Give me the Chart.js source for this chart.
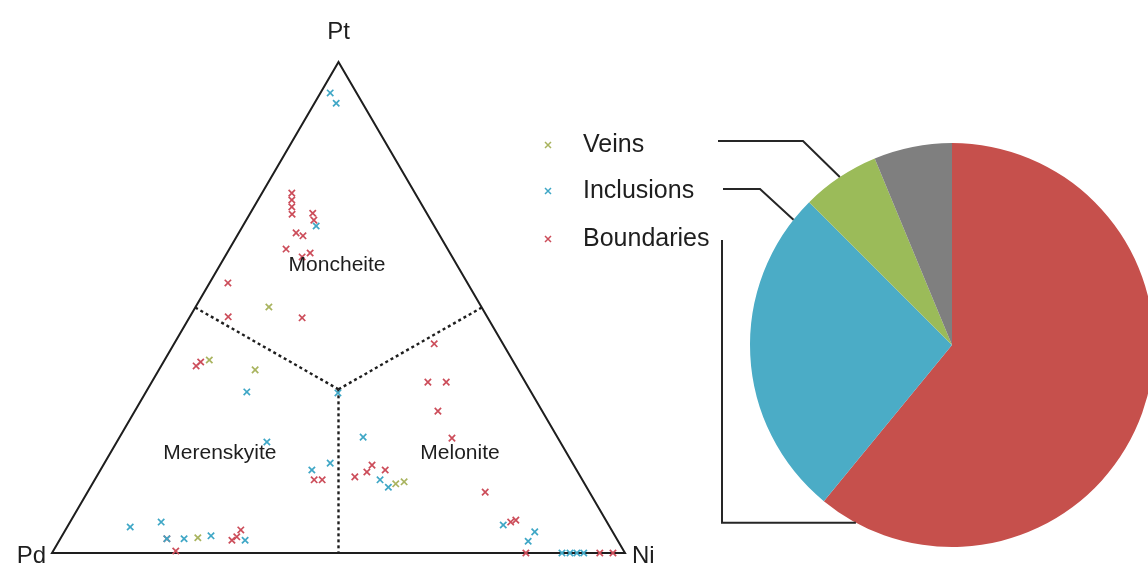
<!DOCTYPE html>
<html>
<head>
<meta charset="utf-8">
<script src="https://cdn.jsdelivr.net/npm/chart.js"></script>
<style>
  html, body { margin: 0; padding: 0; background: #fff; overflow: hidden; width: 1148px; height: 567px; }
  #ternary { position: absolute; left: 0; top: 0; }
  #pie { position: absolute; left: 520px; top: 0; }
</style>
</head>
<body>
<canvas id="ternary" width="700" height="567"></canvas>
<canvas id="pie" width="640" height="567"></canvas>
<script>
// Grain compositions in percent, ordered [Pt, Pd, Ni]
const veins = [
  [50.1, 37.1, 12.8], [39.3, 52.9, 7.8], [37.3, 45.9, 16.8],
  [14.5, 31.3, 54.2], [14.1, 33.0, 53.0], [3.1, 73.0, 23.9]
];
const inclusions = [
  [93.7, 4.6, 1.7], [91.6, 4.6, 3.8], [66.6, 20.6, 12.8], [32.8, 49.6, 17.6],
  [32.6, 33.8, 33.6], [23.6, 33.9, 42.5], [22.6, 51.2, 26.2], [18.3, 42.3, 39.4],
  [16.9, 46.2, 36.9], [14.9, 35.3, 49.8], [13.4, 34.6, 52.0], [5.3, 83.7, 11.0],
  [6.3, 77.8, 15.9], [2.9, 78.5, 18.6], [2.9, 75.5, 21.6], [3.5, 70.5, 26.0],
  [2.6, 65.0, 32.4], [5.7, 18.4, 75.9], [4.3, 13.6, 82.1], [2.4, 15.7, 81.9],
  [0, 11.0, 89.0], [0, 9.6, 90.4], [0, 8.4, 91.6], [0, 7.2, 92.8]
];
const boundaries = [
  [73.3, 21.5, 5.2], [71.9, 22.2, 5.9], [70.5, 22.9, 6.6], [69.0, 23.6, 7.4],
  [69.2, 19.9, 10.9], [67.8, 20.4, 11.8], [65.2, 24.8, 10.0], [64.6, 23.9, 11.5],
  [61.9, 28.2, 9.9], [61.1, 24.4, 14.5], [60.3, 26.2, 13.5], [55.0, 41.8, 3.2],
  [48.1, 45.2, 6.7], [47.9, 32.4, 19.7], [38.1, 55.8, 6.1], [38.9, 54.6, 6.5],
  [42.6, 12.0, 45.4], [34.8, 17.0, 48.2], [34.8, 13.8, 51.4], [28.9, 18.2, 52.9],
  [23.4, 18.5, 58.1], [15.5, 39.4, 45.1], [16.5, 36.8, 46.7], [17.9, 35.2, 46.9],
  [16.9, 33.4, 49.7], [14.9, 46.8, 38.3], [14.9, 45.4, 39.7], [12.4, 18.2, 69.4],
  [6.3, 16.8, 76.9], [6.7, 15.7, 77.6], [0.4, 78.2, 21.4], [2.9, 78.5, 18.6],
  [2.6, 67.3, 30.1], [3.3, 66.1, 30.6], [4.7, 64.7, 30.6],
  [0, 17.3, 82.7], [0, 4.4, 95.6], [0, 2.1, 97.9]
];

// Corners of the diagram and the mineral field boundaries
const componentNames = ['Pt', 'Pd', 'Ni'];
const corners = [[100, 0, 0], [0, 100, 0], [0, 0, 100]];
const fieldCentre = [100 / 3, 100 / 3, 100 / 3];
const edgeMidpoints = [[50, 50, 0], [50, 0, 50], [0, 50, 50]];
const fieldNames = ['Moncheite', 'Merenskyite', 'Melonite'];
const fieldLabelAt = [[58.7, 20.9, 20.4], [20.4, 60.5, 19.1], [20.4, 18.6, 61.0]];

// Occurrence counts by textural setting
const settingNames = ['Veins', 'Inclusions', 'Boundaries'];
const pieLabels = ['Boundaries', 'Inclusions', 'Veins', 'Other'];
const pieCounts = [39, 17, 4, 4];

const FONT = "'Liberation Sans', Arial, Helvetica, sans-serif";
const colours = { Veins: '#a9b45f', Inclusions: '#3fa7c6', Boundaries: '#cc4d5a' };
const sliceColours = ['#c6504c', '#4bacc6', '#9bbb59', '#7f7f7f'];

// Ternary composition -> cartesian position in a unit triangle
function toXY(c) {
  const s = c[0] + c[1] + c[2];
  const pt = c[0] / s, ni = c[2] / s;
  return { x: ni + pt / 2, y: pt };
}

const [ptCorner, pdCorner, niCorner] = corners;

const lineDataset = (points, dashed) => ({
  type: 'scatter',
  data: points.map(toXY),
  showLine: true,
  pointRadius: 0,
  borderColor: '#1e1e1e',
  borderWidth: dashed ? 2.4 : 2,
  borderDash: dashed ? [3, 3] : [],
  borderJoinStyle: 'miter',
  fill: false,
  clip: false
});

const markerDataset = (name, rows) => ({
  label: name,
  data: rows.map(toXY),
  pointStyle: 'crossRot',
  pointRadius: 4.5,
  borderWidth: 1.7,
  borderColor: colours[name],
  backgroundColor: colours[name],
  showLine: false,
  clip: false
});

const ternaryLabels = {
  id: 'ternaryLabels',
  afterDatasetsDraw(chart) {
    const { ctx, scales: { x, y } } = chart;
    const px = c => { const p = toXY(c); return [x.getPixelForValue(p.x), y.getPixelForValue(p.y)]; };
    ctx.save();
    ctx.fillStyle = '#1e1e1e';
    ctx.font = '24px ' + FONT;
    ctx.textBaseline = 'middle';
    let [ax, ay] = px(ptCorner);
    ctx.textAlign = 'center';
    ctx.fillText(componentNames[0], ax, ay - 30);
    [ax, ay] = px(pdCorner);
    ctx.textAlign = 'right';
    ctx.fillText(componentNames[1], ax - 6, ay + 3);
    [ax, ay] = px(niCorner);
    ctx.textAlign = 'left';
    ctx.fillText(componentNames[2], ax + 7, ay + 3);
    ctx.font = '21px ' + FONT;
    ctx.textAlign = 'center';
    fieldNames.forEach((n, i) => {
      const [lx, ly] = px(fieldLabelAt[i]);
      ctx.fillText(n, lx, ly);
    });
    ctx.restore();
  }
};

new Chart(document.getElementById('ternary'), {
  type: 'scatter',
  data: {
    datasets: [
      markerDataset('Veins', veins),
      markerDataset('Inclusions', inclusions),
      markerDataset('Boundaries', boundaries),
      lineDataset([pdCorner, niCorner, ptCorner, pdCorner, niCorner], false),
      ...edgeMidpoints.map(m => lineDataset([fieldCentre, m], true))
    ]
  },
  options: {
    responsive: false,
    animation: false,
    events: [],
    layout: { padding: { left: 52, right: 75, top: 62, bottom: 14 } },
    scales: {
      x: { type: 'linear', min: 0, max: 1, display: false },
      y: { type: 'linear', min: 0, max: 1, display: false }
    },
    plugins: { legend: { display: false }, tooltip: { enabled: false } }
  },
  plugins: [ternaryLabels]
});

// Legend of settings and the leader lines tying each to its slice
const PIE_LEFT = 520;
const legendRows = [
  { name: 'Veins', y: 145, slice: 2, along: 0.5, elbow: [[718, 141], [803, 141]] },
  { name: 'Inclusions', y: 191, slice: 1, along: 0.93, elbow: [[723, 189], [760, 189]] },
  { name: 'Boundaries', y: 239, slice: 0, along: 0.95, elbow: [[722, 240]] }
];

const pieCallouts = {
  id: 'pieCallouts',
  afterDraw(chart) {
    const { ctx } = chart;
    const arcs = chart.getDatasetMeta(0).data;
    ctx.save();
    ctx.translate(-PIE_LEFT, 0);
    legendRows.forEach(row => {
      // marker
      const mx = 548, my = row.y, r = 3;
      ctx.strokeStyle = colours[row.name];
      ctx.lineWidth = 1.5;
      ctx.beginPath();
      ctx.moveTo(mx - r, my - r); ctx.lineTo(mx + r, my + r);
      ctx.moveTo(mx + r, my - r); ctx.lineTo(mx - r, my + r);
      ctx.stroke();
      // text
      ctx.fillStyle = '#1e1e1e';
      ctx.font = '25px ' + FONT;
      ctx.textAlign = 'left';
      ctx.textBaseline = 'middle';
      ctx.fillText(row.name, 583, row.y);
      // leader line
      const a = arcs[row.slice];
      const ang = a.startAngle + (a.endAngle - a.startAngle) * row.along;
      const ex = a.x + PIE_LEFT + a.outerRadius * Math.cos(ang);
      const ey = a.y + a.outerRadius * Math.sin(ang);
      ctx.strokeStyle = '#262626';
      ctx.lineWidth = 2;
      ctx.beginPath();
      ctx.moveTo(row.elbow[0][0], row.elbow[0][1]);
      for (let i = 1; i < row.elbow.length; i++) ctx.lineTo(row.elbow[i][0], row.elbow[i][1]);
      if (row.elbow.length === 1) ctx.lineTo(row.elbow[0][0], ey);
      ctx.lineTo(ex, ey);
      ctx.stroke();
    });
    ctx.restore();
  }
};

new Chart(document.getElementById('pie'), {
  type: 'pie',
  data: {
    labels: pieLabels,
    datasets: [{ data: pieCounts, backgroundColor: sliceColours, borderWidth: 0 }]
  },
  options: {
    responsive: false,
    animation: false,
    events: [],
    layout: { padding: { left: 230, right: 6, top: 143, bottom: 20 } },
    plugins: { legend: { display: false }, tooltip: { enabled: false } }
  },
  plugins: [pieCallouts]
});
</script>
</body>
</html>
